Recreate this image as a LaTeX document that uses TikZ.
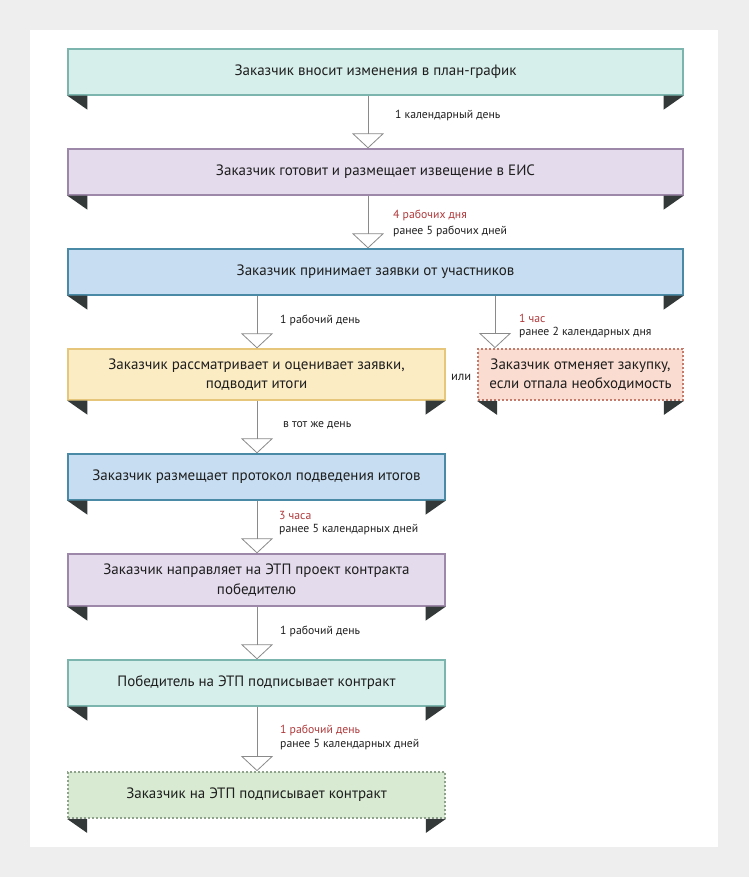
\documentclass[tikz,border=0pt]{standalone}
\usepackage{fontspec}
\setmainfont{PT Sans}
\usetikzlibrary{arrows.meta}
\definecolor{bgc}{HTML}{EEEEEE}
\definecolor{txt}{HTML}{1E1E1E}
\definecolor{redt}{HTML}{B03A3C}
\definecolor{flapc}{HTML}{333939}
\definecolor{tealF}{HTML}{D7EFEB}\definecolor{tealD}{HTML}{7BB5AE}
\definecolor{purF}{HTML}{E4DBED}\definecolor{purD}{HTML}{9D88A9}
\definecolor{bluF}{HTML}{C7DDF1}\definecolor{bluD}{HTML}{4A8AA6}
\definecolor{yelF}{HTML}{FCECC4}\definecolor{yelD}{HTML}{E6C67A}
\definecolor{peaF}{HTML}{FADCD0}\definecolor{peaD}{HTML}{C47B6B}
\definecolor{grnF}{HTML}{D8EBD2}\definecolor{grnD}{HTML}{8FA38C}
\definecolor{arrc}{HTML}{8A8A8A}
\tikzset{
  box/.style={rectangle, draw, line width=1.3pt, align=center, inner sep=0pt,
    text=txt, font=\fontsize{15}{19.5}\selectfont},
  wide/.style={box, minimum width=615pt, minimum height=46pt},
  half/.style={box, minimum width=377pt, minimum height=46pt},
  teal/.style={fill=tealF, draw=tealD},
  pur/.style={fill=purF, draw=purD},
  blu/.style={fill=bluF, draw=bluD},
  yel/.style={fill=yelF, draw=yelD},
  pea/.style={fill=peaF, draw=peaD, dash pattern=on 1.8pt off 2.2pt, line width=1.8pt},
  grn/.style={fill=grnF, draw=grnD, dash pattern=on 1.8pt off 2.2pt, line width=1.8pt},
  flap/.style={fill=flapc},
  arr/.style={draw=arrc, line width=0.7pt, -{Triangle[open, width=32pt, length=15pt, line width=0.8pt]}},
  lab/.style={anchor=west, inner sep=0pt, text=txt, font=\fontsize{11.7}{14}\selectfont},
  labr/.style={lab, text=redt},
}
\newcommand{\flaps}[1]{%
  \fill[flap] (#1.south west) -- ++(20,0) -- ++(0,14) -- cycle;
  \fill[flap] (#1.south east) -- ++(-20,0) -- ++(0,14) -- cycle;}
\begin{document}
\begin{tikzpicture}[x=1pt,y=-1pt]
\useasboundingbox (0,0) rectangle (749,877);
\fill[bgc] (0,0) rectangle (749,877);
\fill[white] (30,30) rectangle (718,847);

\node[wide,teal] (b1) at (375.5,72) {Заказчик вносит изменения в план-график};
\node[wide,pur] (b2) at (375.5,172) {Заказчик готовит и размещает извещение в ЕИС};
\node[wide,blu] (b3) at (375.5,272) {Заказчик принимает заявки от участников};
\node[half,yel,minimum height=51pt] (b4) at (256.5,374.5) {Заказчик рассматривает и оценивает заявки,\\подводит итоги};
\node[box,pea,minimum width=205pt,minimum height=51pt] (b5) at (580.5,374.5) {Заказчик отменяет закупку,\\если отпала необходимость};
\node[half,blu] (b6) at (256.5,477) {Заказчик размещает протокол подведения итогов};
\node[half,pur,minimum height=52pt] (b7) at (256.5,580) {Заказчик направляет на ЭТП проект контракта\\победителю};
\node[half,teal] (b8) at (256.5,683) {Победитель на ЭТП подписывает контракт};
\node[half,grn] (b9) at (256.5,795) {Заказчик на ЭТП подписывает контракт};

\foreach \b in {b1,b2,b3,b4,b5,b6,b7,b8,b9}{\flaps{\b}}

\coordinate (xa) at (368,0);
\coordinate (xl) at (257,0);
\coordinate (xr) at (495,0);

\draw[arr] (b1.south -| xa) -- (b2.north -| xa);
\draw[arr] (b2.south -| xa) -- (b3.north -| xa);
\draw[arr] (b3.south -| xl) -- (b4.north -| xl);
\draw[arr] (b3.south -| xr) -- (b5.north -| xr);
\draw[arr] (b4.south -| xl) -- (b6.north -| xl);
\draw[arr] (b6.south -| xl) -- (b7.north -| xl);
\draw[arr] (b7.south -| xl) -- (b8.north -| xl);
\draw[arr] (b8.south -| xl) -- (b9.north -| xl);

\node[lab] (l1) at (395,116) {1 календарный день};
\node[labr] (l2a) at (393,215) {4 рабочих дня};
\node[lab] (l2b) at (393,231) {ранее 5 рабочих дней};
\node[lab] (l3) at (280,320) {1 рабочий день};
\node[labr] (l4a) at (519,318) {1 час};
\node[lab] (l4b) at (519,333) {ранее 2 календарных дня};
\node[lab, font=\fontsize{12.5}{14}\selectfont] (ili) at (451,377) {или};
\node[lab] (l5) at (283,425) {в тот же день};
\node[labr] (l6a) at (279,515) {3 часа};
\node[lab] (l6b) at (279,530) {ранее 5 календарных дней};
\node[lab] (l7) at (280,631) {1 рабочий день};
\node[labr] (l8a) at (280,730) {1 рабочий день};
\node[lab] (l8b) at (280,745) {ранее 5 календарных дней};
\end{tikzpicture}
\end{document}
